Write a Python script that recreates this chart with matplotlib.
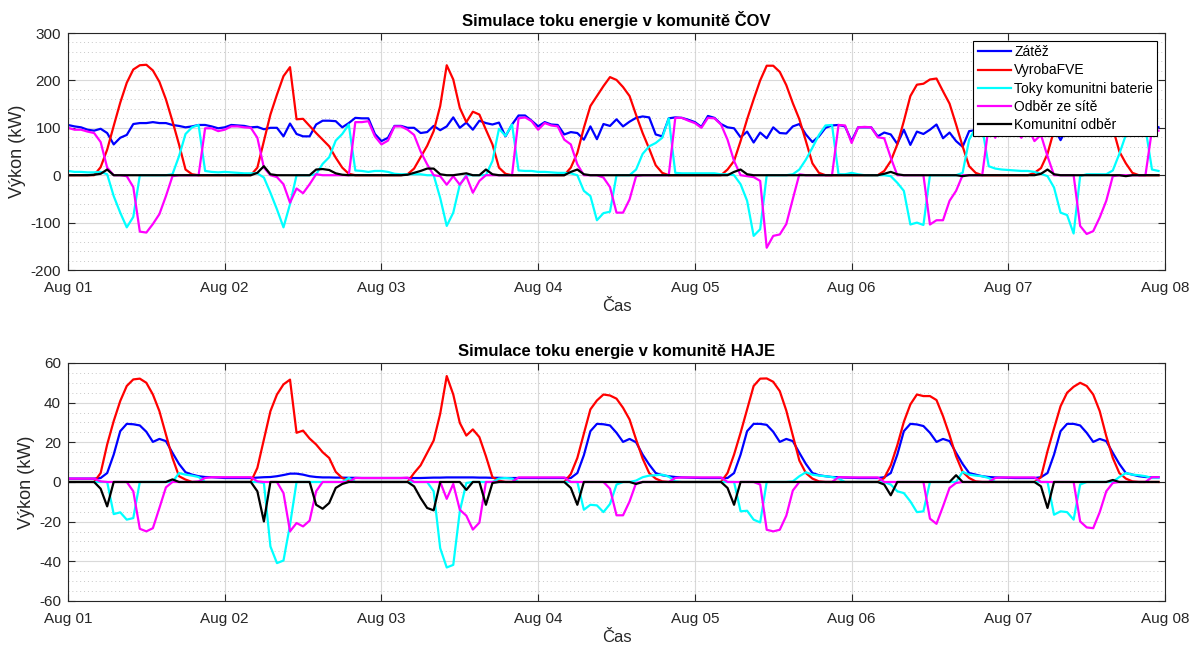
import numpy as np
import pandas as pd
import matplotlib
matplotlib.use('Agg')
import matplotlib.pyplot as plt
import matplotlib.dates as mdates
from matplotlib.ticker import MultipleLocator

plt.rcParams['font.family'] = ['Liberation Sans', 'DejaVu Sans']
plt.rcParams['axes.unicode_minus'] = False

# hourly samples, Aug 01 00:00 .. Aug 07 23:00
times = pd.date_range('2023-08-01 00:00', periods=168, freq='h')
series_names = ['Zátěž', 'VyrobaFVE', 'Toky komunitni baterie', 'Odběr ze sítě', 'Komunitní odběr']

# ---- komunita ČOV (kW) ----
cov_load = [106, 103, 101, 96, 94, 98, 89, 65, 79, 85, 108, 110, 110, 112, 110, 110, 106, 104, 101, 103, 106, 106, 103, 99,
            101, 106, 105, 104, 101, 102, 97, 100, 100, 82, 109, 87, 82, 82, 107, 115, 115, 114, 101, 110, 121, 120, 120, 87,
            72, 79, 104, 104, 100, 100, 89, 91, 104, 95, 103, 122, 100, 111, 96, 115, 110, 107, 111, 82, 107, 126, 126, 115,
            103, 112, 107, 106, 86, 91, 89, 75, 103, 76, 108, 104, 118, 103, 113, 121, 124, 122, 86, 82, 120, 122, 121, 117,
            112, 102, 125, 121, 108, 101, 99, 80, 92, 69, 90, 78, 101, 89, 88, 103, 108, 86, 70, 82, 100, 105, 106, 103,
            72, 101, 101, 101, 82, 90, 86, 66, 96, 64, 92, 87, 96, 107, 78, 90, 72, 60, 93, 95, 102, 110, 98, 105,
            96, 112, 100, 104, 92, 108, 95, 100, 74, 100, 110, 100, 104, 92, 115, 98, 106, 112, 96, 120, 104, 110, 108, 101]
cov_pv = [0, 0, 0, 0, 0, 17, 54, 104, 153, 195, 223, 232, 233, 221, 197, 160, 114, 65, 12, 2, 0, 0, 0, 0,
          0, 0, 0, 0, 0, 16, 72, 128, 170, 209, 228, 118, 119, 104, 89, 75, 61, 37, 16, 3, 0, 0, 0, 0,
          0, 0, 0, 0, 2, 14, 38, 62, 93, 146, 232, 202, 142, 112, 134, 128, 96, 65, 16, 3, 0, 0, 0, 0,
          0, 0, 0, 0, 0, 16, 47, 100, 146, 167, 188, 207, 201, 186, 167, 127, 89, 56, 21, 5, 0, 0, 0, 0,
          0, 0, 0, 0, 0, 12, 30, 72, 118, 160, 200, 231, 231, 218, 190, 152, 118, 72, 25, 5, 0, 0, 0, 0,
          0, 0, 0, 0, 0, 9, 30, 65, 114, 167, 191, 193, 202, 204, 177, 151, 107, 61, 19, 5, 0, 0, 0, 0,
          0, 0, 0, 0, 5, 15, 45, 95, 140, 180, 195, 205, 210, 200, 175, 140, 100, 50, 25, 5, 0, 0, 0, 0]
cov_batt = [9, 7, 7, 6, 6, 7, 2, -44, -79, -110, -88, 0, 0, 0, 0, 0, 2, 40, 87, 101, 106, 9, 7, 6,
            7, 6, 5, 4, 4, 4, -5, -37, -72, -110, -61, 0, 0, 0, 2, 24, 38, 73, 87, 107, 10, 9, 7, 9,
            9, 7, 3, 2, 2, 2, 2, 0, 0, -48, -107, -79, -20, 0, 0, 0, 0, 30, 98, 83, 107, 10, 9, 9,
            7, 7, 6, 5, 5, 4, 0, -33, -44, -95, -80, -77, 0, 0, 0, 12, 45, 61, 68, 79, 120, 5, 4, 4,
            4, 4, 4, 4, 2, 2, 0, -19, -54, -128, -114, 0, 0, 0, 0, 2, 12, 33, 58, 85, 105, 106, 2, 2,
            5, 2, 0, 0, 0, 0, -2, -16, -33, -104, -100, -105, 0, 0, 0, 0, 0, 5, 75, 100, 100, 19, 14, 12,
            11, 10, 9, 9, 7, 3, -2, -26, -79, -84, -123, -2, 2, 2, 2, 2, 10, 45, 85, 105, 105, 100, 12, 9]
cov_grid = [100, 96, 96, 92, 89, 70, 16, 0, 0, -2, -25, -119, -121, -103, -82, -44, -2, 0, 0, 0, 0, 99, 99, 93,
            96, 103, 103, 101, 100, 79, 16, 0, -4, -19, -58, -28, -38, -19, 2, 0, 0, 0, 0, 0, 112, 112, 114, 82,
            65, 73, 103, 103, 96, 85, 50, 23, 0, -2, -20, -2, -20, -2, -37, -12, 0, 0, 0, 0, 0, 120, 122, 114,
            96, 110, 105, 103, 75, 65, 23, 0, 0, 0, -5, -25, -79, -79, -51, -2, 0, 0, 0, 0, 0, 121, 121, 115,
            110, 100, 121, 120, 107, 75, 30, 0, -2, -4, -12, -153, -128, -125, -103, -50, 2, 0, 0, 0, 0, 0, 106, 105,
            68, 101, 102, 101, 80, 78, 37, 0, 0, 0, 0, 0, -104, -95, -95, -54, -33, 0, 0, 0, 0, 105, 79, 107,
            100, 95, 79, 100, 72, 85, 40, 0, 0, 0, 0, -107, -124, -118, -89, -54, -2, 0, 0, 0, 0, 0, 96, 94]
cov_comm = [0, 0, 0, 0, 1, 3, 12, 0, 0, 0, 0, 0, 0, 0, 0, 0, 0, 0, 0, 0, 0, 0, 0, 0,
            0, 0, 0, 0, 0, 5, 19, 2, 0, 0, 0, 0, 0, 0, 12, 13, 11, 4, 1, 0, 0, 0, 0, 0,
            0, 0, 0, 0, 1, 5, 9, 14, 14, 2, 0, 0, 2, 4, 0, 0, 12, 2, 0, 0, 0, 0, 0, 0,
            0, 0, 0, 0, 0, 7, 12, 2, 0, 0, 0, 0, 0, 0, 0, 0, 0, 0, 0, 0, 0, 0, 0, 0,
            0, 0, 0, 0, 0, 0, 7, 12, 2, 0, 0, 0, 0, 0, 0, 0, 0, 0, 0, 0, 0, 0, 0, 0,
            0, 0, 0, 0, 0, 3, 7, 2, 0, 0, 0, 0, 0, 0, 0, 0, 0, -2, 0, 0, 0, 0, 0, 0,
            0, 0, 0, 0, 0, 3, 12, 2, 0, 0, 0, 0, 0, 0, 0, 0, 0, 0, -2, 0, 0, 0, 0, 0]

# ---- komunita HAJE (kW) ----
haje_load = [1.7, 1.7, 1.7, 1.7, 1.7, 2.0, 4.5, 13.8, 25.6, 29.3, 29.1, 28.5, 25.3, 20.2, 21.7, 20.6, 14.7, 9.1, 4.9, 3.7, 2.9, 2.5, 2.4, 2.2,
             2.0, 2.0, 2.0, 2.0, 2.0, 2.2, 2.4, 2.5, 2.9, 3.5, 4.2, 4.2, 3.7, 2.9, 2.5, 2.3, 2.3, 2.2, 2.2, 2.1, 2.1, 2.0, 2.0, 2.0,
             2.0, 2.0, 2.0, 2.0, 2.0, 2.0, 2.0, 2.1, 2.2, 2.2, 2.3, 2.3, 2.3, 2.3, 2.3, 2.2, 2.2, 2.1, 2.1, 2.0, 2.0, 2.0, 2.0, 2.0,
             2.0, 2.0, 2.0, 2.0, 2.0, 2.0, 4.5, 13.5, 25.6, 29.3, 29.1, 28.5, 24.8, 20.2, 21.7, 20.0, 13.8, 8.8, 4.5, 3.4, 2.9, 2.5, 2.3, 2.2,
             2.1, 2.0, 2.0, 2.0, 2.0, 2.0, 4.5, 13.8, 25.6, 29.3, 29.3, 28.8, 25.3, 20.2, 21.7, 20.6, 14.7, 9.1, 4.5, 3.4, 2.9, 2.5, 2.4, 2.2,
             2.1, 2.0, 2.0, 2.0, 2.0, 2.4, 4.5, 13.8, 25.6, 29.3, 29.0, 28.2, 24.8, 20.2, 21.7, 20.6, 14.7, 9.1, 4.5, 3.7, 2.9, 2.5, 2.3, 2.2,
             2.1, 2.0, 2.0, 2.0, 2.0, 2.4, 4.5, 13.8, 25.6, 29.3, 29.3, 28.5, 24.8, 20.2, 21.7, 20.6, 14.7, 9.1, 4.5, 3.7, 2.9, 2.5, 2.4, 2.4]
haje_pv = [0, 0, 0, 0, 0, 4.5, 18.9, 30.7, 40.8, 48.4, 51.7, 52.1, 50.0, 44.1, 35.7, 23.9, 12.1, 2.9, 1.2, 0, 0, 0, 0, 0,
           0, 0, 0, 0, 0, 7.1, 21.4, 35.7, 44.1, 49.2, 51.6, 24.8, 25.9, 21.9, 18.9, 15.0, 12.1, 5.1, 2.0, 0.7, 0, 0, 0, 0,
           0, 0, 0, 0, 0, 4.5, 8.4, 14.7, 20.9, 34.4, 53.4, 44.1, 29.8, 23.4, 26.5, 22.6, 13.0, 2.4, 0.7, 0, 0, 0, 0, 0,
           0, 0, 0, 0, 0, 4.0, 12.1, 24.3, 36.6, 41.1, 44.1, 43.6, 42.0, 37.4, 31.5, 21.4, 11.8, 4.5, 1.7, 0.3, 0, 0, 0, 0,
           0, 0, 0, 0, 0, 4.5, 13.8, 24.8, 36.6, 48.4, 52.1, 52.2, 50.5, 45.8, 36.0, 23.5, 10.8, 4.5, 1.7, 0.3, 0, 0, 0, 0,
           0, 0, 0, 0, 0, 2.0, 8.4, 18.5, 30.3, 39.1, 44.1, 43.3, 43.3, 41.3, 33.2, 23.6, 13.0, 5.1, 2.0, 0.3, 0, 0, 0, 0,
           0, 0, 0, 0, 0, 2.4, 15.5, 27.0, 38.2, 45.0, 48.0, 50.0, 48.4, 44.1, 35.7, 23.1, 12.1, 4.5, 1.7, 0.3, 0, 0, 0, 0]
haje_batt = [0, 0, 0, 0, 0, 0, 0, -16.2, -15.3, -19.0, -18.2, 0, 0, 0, 0, 0, 0, 4.5, 3.7, 3.2, 2.5, 0, 0, 0,
             0, 0, 0, 0, 0, 0, -0.5, -32.5, -40.9, -39.6, -21.6, 0, 0, 0, 0, 0, 0, 0, 0, 2.0, 0, 0, 0, 0,
             0, 0, 0, 0, 0, 0, 0, 0, -4.7, -33.4, -43.1, -41.8, -14.8, -0.5, 0, 0, 0, 0, 1.7, 2.0, 1.7, 0, 0, 0,
             0, 0, 0, 0, 0, 0, 0, -14.0, -11.5, -11.8, -15.2, -11.1, -1.3, 0, 0, 0.7, 2.4, 3.2, 3.4, 3.7, 2.7, 0.3, 0, 0,
             0, 0, 0, 0, 0, 0, 0, -14.8, -14.5, -19.0, -20.4, 0, 0, 0, 0, 0.3, 2.9, 4.9, 3.7, 3.2, 2.9, 2.5, 1.7, 0,
             0, 0, 0, 0, 0, 0, -1.3, -4.7, -5.6, -9.8, -15.2, -14.8, 0, 0, 0, 0, 0, 5.1, 3.7, 3.2, 2.9, 2.0, 0, 0,
             0, 0, 0, 0, 0, 0, 0, -16.5, -14.8, -15.2, -19.0, -1.3, 0, 0, 0, 0, 0, 2.5, 4.5, 3.7, 3.4, 2.9, 2.0, 2.0]
haje_grid = [1.7, 1.7, 1.7, 1.7, 1.7, 0.3, 0, 0, 0, 0, -4.7, -23.6, -24.9, -23.3, -13.1, -2.7, 0, 0, 0, 0, 0.3, 2.0, 2.4, 2.4,
             2.4, 2.4, 2.4, 2.4, 2.4, 0.3, 0, 0, 0, -5.6, -24.9, -20.7, -22.4, -19.5, -4.7, 0, 0, 0, 0, 0, 2.0, 2.0, 2.0, 2.0,
             2.0, 2.0, 2.0, 2.0, 2.2, 0, 0, 0, 0, 0, -8.5, -1.0, -14.0, -17.0, -24.0, -20.5, 0, 0, 0, 0, 0, 2.3, 2.3, 2.3,
             2.3, 2.3, 2.3, 2.3, 2.3, 0, 0, 0, 0, 0, 0, -3.4, -16.8, -16.8, -9.8, -0.5, 0, 0, 0, 0, 0, 2.0, 2.3, 2.3,
             2.3, 2.3, 2.3, 2.3, 2.3, 0, 0, 0, 0, 0, -1.3, -24.1, -24.9, -24.1, -17.0, -4.3, 0, 0, 0, 0, 0, 0, 2.4, 2.4,
             2.3, 2.3, 2.3, 2.3, 2.3, 0, 0, 0, 0, 0, 0, 0, -18.5, -21.1, -12.3, -3.0, -0.5, 0, 0, 0, 0, 0, 2.0, 2.3,
             2.3, 2.3, 2.3, 2.3, 2.3, 0, 0, 0, 0, 0, 0, -19.9, -22.9, -23.3, -15.2, -4.7, -0.5, 0, 0, 0, 0, 0, 2.4, 2.4]
haje_comm = [0, 0, 0, 0, 0, -3.4, -12.3, 0, 0, 0, 0, 0, 0, 0, 0, 0, 1.3, 0, 0, 0, 0, 0, 0, 0,
             0, 0, 0, 0, 0, -4.7, -19.9, 0, 0, 0, 0, 0, 0, 0, -11.5, -13.5, -10.6, -3.0, -1.0, 0, 0, 0, 0, 0,
             0, 0, 0, 0, 0, -2.2, -8.1, -13.1, -14.3, 0, 0, 0, 0, -4.0, 0, 0, -11.5, -0.5, 0, 0, 0, 0, 0, 0,
             0, 0, 0, 0, 0, -3.0, -11.5, 0, 0, 0, 0, 0, 0, 0, 0, -1.0, 0, 0, 0, 0, 0, 0, 0, 0,
             0, 0, 0, 0, 0, -3.0, -11.5, 0, 0, 0, 0, 0, 0, 0, 0, 0, 0, 0, 0, 0, 0, 0, 0, 0,
             0, 0, 0, 0, 0, -1.3, -6.7, 0, 0, 0, 0, 0, 0, 0, 0, 0, 3.4, 0, 0, 0, 0, 0, 0, 0,
             0, 0, 0, 0, 0, -2.2, -13.1, 0, 0, 0, 0, 0, 0, 0, 0, 0, 1.0, 0, 0, 0, 0, 0, 0, 0]

colors = ['#0000ff', '#ff0000', '#00ffff', '#ff00ff', '#000000']
axis_gray = '#262626'


def style_axes(ax, ylim, major, minor, title):
    ax.set_xlim(pd.Timestamp('2023-08-01'), pd.Timestamp('2023-08-08'))
    ax.set_ylim(*ylim)
    ax.xaxis.set_major_locator(mdates.DayLocator())
    ax.xaxis.set_major_formatter(mdates.DateFormatter('%b %d'))
    ax.yaxis.set_major_locator(MultipleLocator(major))
    ax.yaxis.set_minor_locator(MultipleLocator(minor))
    ax.tick_params(which='major', direction='in', length=5, width=0.8, top=True, right=True,
                   labelsize=11, colors=axis_gray)
    ax.tick_params(axis='x', which='major', pad=8)
    ax.tick_params(axis='y', which='major', pad=5)
    ax.tick_params(which='minor', length=0)
    ax.grid(which='major', color='#d9d9d9', linewidth=0.8, linestyle='-')
    ax.yaxis.grid(which='minor', color='#c8c8c8', linewidth=0.7, linestyle=(0, (1, 3)))
    ax.set_axisbelow(True)
    for s in ax.spines.values():
        s.set_color(axis_gray)
        s.set_linewidth(0.8)
    ax.set_title(title, fontsize=12, fontweight='bold', pad=5)
    ax.set_xlabel('Čas', fontsize=12, color=axis_gray, labelpad=3)
    ax.set_ylabel('Výkon (kW)', fontsize=13, color=axis_gray, labelpad=3)


fig = plt.figure(figsize=(11.97, 6.5), dpi=100)
ax1 = fig.add_axes([0.0568, 0.5846, 0.9165, 0.3646])
ax2 = fig.add_axes([0.0568, 0.0754, 0.9165, 0.3662])

for ax, data in [(ax1, [cov_load, cov_pv, cov_batt, cov_grid, cov_comm]),
                 (ax2, [haje_load, haje_pv, haje_batt, haje_grid, haje_comm])]:
    for vals, c, name in zip(data, colors, series_names):
        ax.plot(times, vals, color=c, linewidth=1.6, label=name)

style_axes(ax1, (-200, 300), 100, 20, 'Simulace toku energie v komunitě ČOV')
style_axes(ax2, (-60, 60), 20, 5, 'Simulace toku energie v komunitě HAJE')

leg = ax1.legend(loc='upper right', bbox_to_anchor=(0.993, 0.966), borderaxespad=0,
                 fontsize=10, handlelength=2.4, labelspacing=0.3, handletextpad=0.25,
                 borderpad=0.3, fancybox=False, framealpha=1)
leg.get_frame().set_edgecolor('#000000')
leg.get_frame().set_linewidth(0.8)

fig.savefig('out.png', dpi=100)
